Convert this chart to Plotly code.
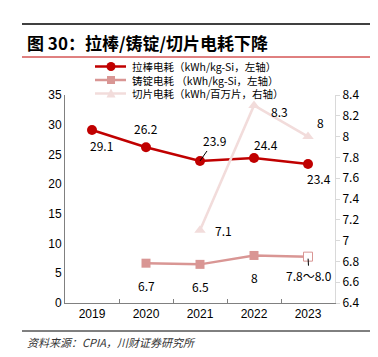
import plotly.graph_objects as go

W, H = 378, 357

years = ["2019", "2020", "2021", "2022", "2023"]
pulling = [29.1, 26.2, 23.9, 24.4, 23.4]          # 拉棒电耗, left axis
casting = [None, 6.7, 6.5, 8.0, 7.8]              # 铸锭电耗, left axis
slicing = [None, None, 7.1, 8.3, 8.0]             # 切片电耗, right axis
casting_label_2023 = "7.8～8.0"

names = ["拉棒电耗（kWh/kg-Si，左轴）", "铸锭电耗 （kWh/kg-Si，左轴）", "切片电耗（kWh/百万片，右轴）"]
title_text = "图 30：拉棒/铸锭/切片电耗下降"
source_text = "资料来源：CPIA，川财证券研究所"

C1, C2, C3 = "#C00000", "#D99694", "#F2DCDB"
CJK = "Noto Sans CJK SC"

def px(x):
    return x / W

def py(y):
    return 1 - y / H

fig = go.Figure()
fig.add_trace(go.Scatter(x=years, y=slicing, yaxis="y2", mode="lines+markers",
                         line=dict(color=C3, width=2.5),
                         marker=dict(symbol="triangle-up", size=10, color=C3),
                         showlegend=False, name=names[2]))
fig.add_trace(go.Scatter(x=years, y=casting, mode="lines+markers",
                         line=dict(color=C2, width=2.5),
                         marker=dict(symbol="square", size=9,
                                     color=[C2, C2, C2, C2, "white"],
                                     line=dict(color=C2, width=[0, 0, 0, 0, 1])),
                         showlegend=False, name=names[1]))
fig.add_trace(go.Scatter(x=years, y=pulling, mode="lines+markers",
                         line=dict(color=C1, width=2.5),
                         marker=dict(symbol="circle", size=10, color=C1),
                         showlegend=False, name=names[0]))

ann = []
lf = dict(family=CJK, size=12, color="#000000")

# 拉棒 labels (category index used as annotation x)
shifts1 = [(9, -15), (0, 19), None, (12, 13), (11, -15)]
for i, yv in enumerate(pulling):
    if shifts1[i] is None:
        ann.append(dict(x=i, y=yv, xref="x", yref="y", text=f"{yv:.1f}", font=lf,
                        showarrow=True, arrowhead=0, arrowwidth=1, arrowcolor="#000",
                        ax=14, ay=-20, standoff=0))
    else:
        ann.append(dict(x=i, y=yv, xref="x", yref="y", text=f"{yv:.1f}", font=lf,
                        showarrow=False, xshift=shifts1[i][0], yshift=shifts1[i][1]))

# 铸锭 labels
for i, yv in enumerate(casting):
    if yv is None:
        continue
    if i == 4:
        ann.append(dict(x=i, y=yv, xref="x", yref="y", text=casting_label_2023, font=lf,
                        showarrow=True, arrowhead=0, arrowwidth=1, arrowcolor="#000",
                        ax=1, ay=19, standoff=2))
    else:
        ann.append(dict(x=i, y=yv, xref="x", yref="y", text=f"{yv:g}", font=lf,
                        showarrow=False, yshift=-22))

# 切片 labels
shifts3 = [None, None, (23, 0), (25, -6), (12, 14)]
for i, yv in enumerate(slicing):
    if yv is None:
        continue
    ann.append(dict(x=i, y=yv, xref="x", yref="y2", text=f"{yv:g}", font=lf,
                    showarrow=False, xshift=shifts3[i][0], yshift=shifts3[i][1]))

# Title and source
ann.append(dict(x=px(17), y=py(34), xref="paper", yref="paper", xanchor="left", yanchor="middle",
                text=f"<b>{title_text}</b>", showarrow=False,
                font=dict(family=CJK, size=17, color="#000")))
ann.append(dict(x=px(17), y=py(334), xref="paper", yref="paper", xanchor="left", yanchor="middle",
                text=f"<i>{source_text}</i>", showarrow=False,
                font=dict(family=CJK, size=11, color="#333")))

shapes = [
    dict(type="line", xref="paper", yref="paper", x0=px(14), x1=px(369), y0=py(16), y1=py(16),
         line=dict(color="#000", width=1.5)),
    dict(type="line", xref="paper", yref="paper", x0=px(14), x1=px(369), y0=py(49), y1=py(49),
         line=dict(color=C1, width=1)),
    dict(type="line", xref="paper", yref="paper", x0=px(14), x1=px(369), y0=py(323), y1=py(323),
         line=dict(color="#000", width=1)),
]

# Legend (manual, compact): one multi-line text block plus line/marker swatches
rows = [58.5, 72, 85.5]
cols = [C1, C2, C3]
for k in range(3):
    yr = rows[k]
    shapes.append(dict(type="line", xref="paper", yref="paper", x0=px(87), x1=px(118),
                       y0=py(yr), y1=py(yr), line=dict(color=cols[k], width=2.5)))
    if k == 0:
        shapes.append(dict(type="circle", xref="paper", yref="paper", x0=px(98.5), x1=px(107.5),
                           y0=py(yr - 4.5), y1=py(yr + 4.5), fillcolor=cols[k], line=dict(width=0)))
    elif k == 1:
        shapes.append(dict(type="rect", xref="paper", yref="paper", x0=px(99), x1=px(107),
                           y0=py(yr - 4), y1=py(yr + 4), fillcolor=cols[k], line=dict(width=0)))
    else:
        path = f"M {px(98.5)} {py(yr + 4)} L {px(107.5)} {py(yr + 4)} L {px(103)} {py(yr - 5)} Z"
        shapes.append(dict(type="path", xref="paper", yref="paper", path=path,
                           fillcolor=cols[k], line=dict(width=0)))
ann.append(dict(x=px(123), y=py(72), xref="paper", yref="paper", xanchor="left", yanchor="middle",
                text="<br>".join(names), align="left", showarrow=False, borderpad=0,
                font=dict(family=CJK, size=10.5, color="#000")))

fig.update_layout(
    width=W, height=H, template="none",
    margin=dict(l=0, r=0, t=0, b=0),
    paper_bgcolor="white", plot_bgcolor="white",
    showlegend=False,
    xaxis=dict(domain=[px(57), px(327)], type="category", range=[-0.5, 4.5],
               showgrid=False, zeroline=False, showline=True, linecolor="#808080", linewidth=1,
               ticks="inside", tickson="boundaries", ticklen=4, tickcolor="#808080",
               tickfont=dict(family="Liberation Sans", size=12, color="#000"),
               automargin=False, fixedrange=True),
    yaxis=dict(domain=[py(295), py(87)], range=[0, 35], dtick=5, tick0=0,
               showgrid=False, zeroline=False, showline=True, linecolor="#808080", linewidth=1,
               ticks="", tickfont=dict(family="Liberation Sans", size=12, color="#000"),
               automargin=False),
    yaxis2=dict(overlaying="y", side="right", anchor="x", range=[6.4, 8.4], dtick=0.2, tick0=6.4,
                showgrid=False, zeroline=False, showline=True, linecolor="#D9D9D9", linewidth=1,
                ticks="outside", ticklen=4, tickcolor="#D9D9D9",
                tickfont=dict(family=CJK, size=12, color="#000"),
                automargin=False),
    annotations=ann, shapes=shapes,
)

fig.write_html("out.html")
